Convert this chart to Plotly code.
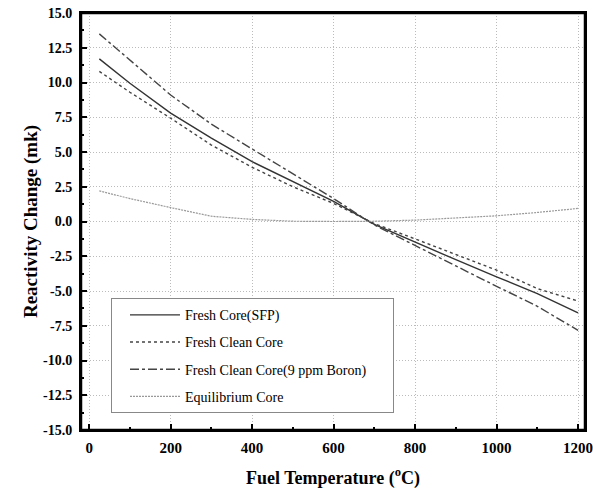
import plotly.graph_objects as go

# Fuel temperature (°C)
temp = [25, 100, 200, 300, 400, 500, 600, 700, 800, 900, 1000, 1100, 1200]

# Reactivity change (mk)
fresh_core_sfp = [11.7, 9.95, 7.8, 6.0, 4.3, 2.85, 1.45, -0.2, -1.5, -2.75, -3.98, -5.19, -6.58]
fresh_clean_core = [10.8, 9.3, 7.43, 5.5, 3.9, 2.5, 1.3, -0.15, -1.25, -2.4, -3.5, -4.83, -5.72]
fresh_clean_boron = [13.5, 11.6, 9.1, 7.0, 5.2, 3.4, 1.65, -0.25, -1.75, -3.2, -4.66, -6.1, -7.83]
equilibrium_core = [2.2, 1.65, 1.0, 0.38, 0.15, 0.02, 0.0, 0.02, 0.1, 0.25, 0.41, 0.65, 0.94]

names = ["Fresh Core(SFP)", "Fresh Clean Core", "Fresh Clean Core(9 ppm Boron)", "Equilibrium Core"]

x_ticks = [0, 200, 400, 600, 800, 1000, 1200]
y_ticks = [-15, -12.5, -10, -7.5, -5, -2.5, 0, 2.5, 5, 7.5, 10, 12.5, 15]
y_tick_labels = ["-15.0", "-12.5", "-10.0", "-7.5", "-5.0", "-2.5", "0.0",
                 "2.5", "5.0", "7.5", "10.0", "12.5", "15.0"]

FONT = "Liberation Serif"

fig = go.Figure()
styles = [
    dict(color="#333333", width=1.4, dash="solid"),
    dict(color="#444444", width=1.4, dash="dot"),
    dict(color="#444444", width=1.4, dash="dashdot"),
    dict(color="#999999", width=1.2, dash="2px,1px"),
]
series = [fresh_core_sfp, fresh_clean_core, fresh_clean_boron, equilibrium_core]
for i, (nm, ys) in enumerate(zip(names, series)):
    label = nm + ("\u00a0" * 6 if i == 2 else "")
    fig.add_trace(go.Scatter(x=temp, y=ys, mode="lines", name=label, line=styles[i],
                             legendgroup=str(i)))

fig.update_layout(
    width=593, height=495,
    margin=dict(l=81, r=8, t=13, b=65, autoexpand=False),
    plot_bgcolor="white", paper_bgcolor="white",
    font=dict(family=FONT, color="black"),
    showlegend=True,
    legend=dict(
        x=0.0595, y=0.316, xanchor="left", yanchor="top",
        bgcolor="white", bordercolor="#888888", borderwidth=1,
        font=dict(family=FONT, size=14, color="black"),
        itemwidth=50, tracegroupgap=6, traceorder="grouped",
        indentation=13,
    ),
    shapes=[dict(type="rect", xref="paper", yref="paper", x0=0, y0=0, x1=1, y1=1,
                 line=dict(color="black", width=2.5), fillcolor="rgba(0,0,0,0)", layer="above")],
)

fig.update_xaxes(
    range=[-20, 1217],
    tickvals=x_ticks,
    ticks="inside", ticklen=6, tickwidth=1.5, tickcolor="black",
    minor=dict(dtick=100, tick0=0, ticks="inside", ticklen=3, tickcolor="black", showgrid=False),
    showline=True, linecolor="black", linewidth=2, mirror=True,
    showgrid=True, gridcolor="#bbbbbb", griddash="1px,2px", gridwidth=1,
    zeroline=False, automargin=False, ticklabeloverflow="allow", ticklabelstandoff=3,
    tickfont=dict(family=FONT, size=15, color="black", weight="bold"),
    title=dict(text="Fuel Temperature (<sup>o</sup>C)", standoff=16,
               font=dict(family=FONT, size=18, color="black", weight="bold")),
)
fig.update_yaxes(
    range=[-15, 15],
    tickvals=y_ticks, ticktext=y_tick_labels,
    ticks="inside", ticklen=6, tickwidth=1.5, tickcolor="black",
    minor=dict(dtick=1.25, tick0=0, ticks="inside", ticklen=3, tickcolor="black", showgrid=False),
    showline=True, linecolor="black", linewidth=2, mirror=True,
    showgrid=True, gridcolor="#bbbbbb", griddash="1px,2px", gridwidth=1,
    zeroline=False, automargin=False, ticklabeloverflow="allow", ticklabelstandoff=4,
    tickfont=dict(family=FONT, size=14, color="black", weight="bold"),
    title=dict(text="Reactivity Change (mk)", standoff=0,
               font=dict(family=FONT, size=19, color="black", weight="bold")),
)

fig.write_html(
    "out.html",
    config={"displayModeBar": False},
    post_script="document.body.style.margin='0';document.body.style.overflow='hidden';",
)
